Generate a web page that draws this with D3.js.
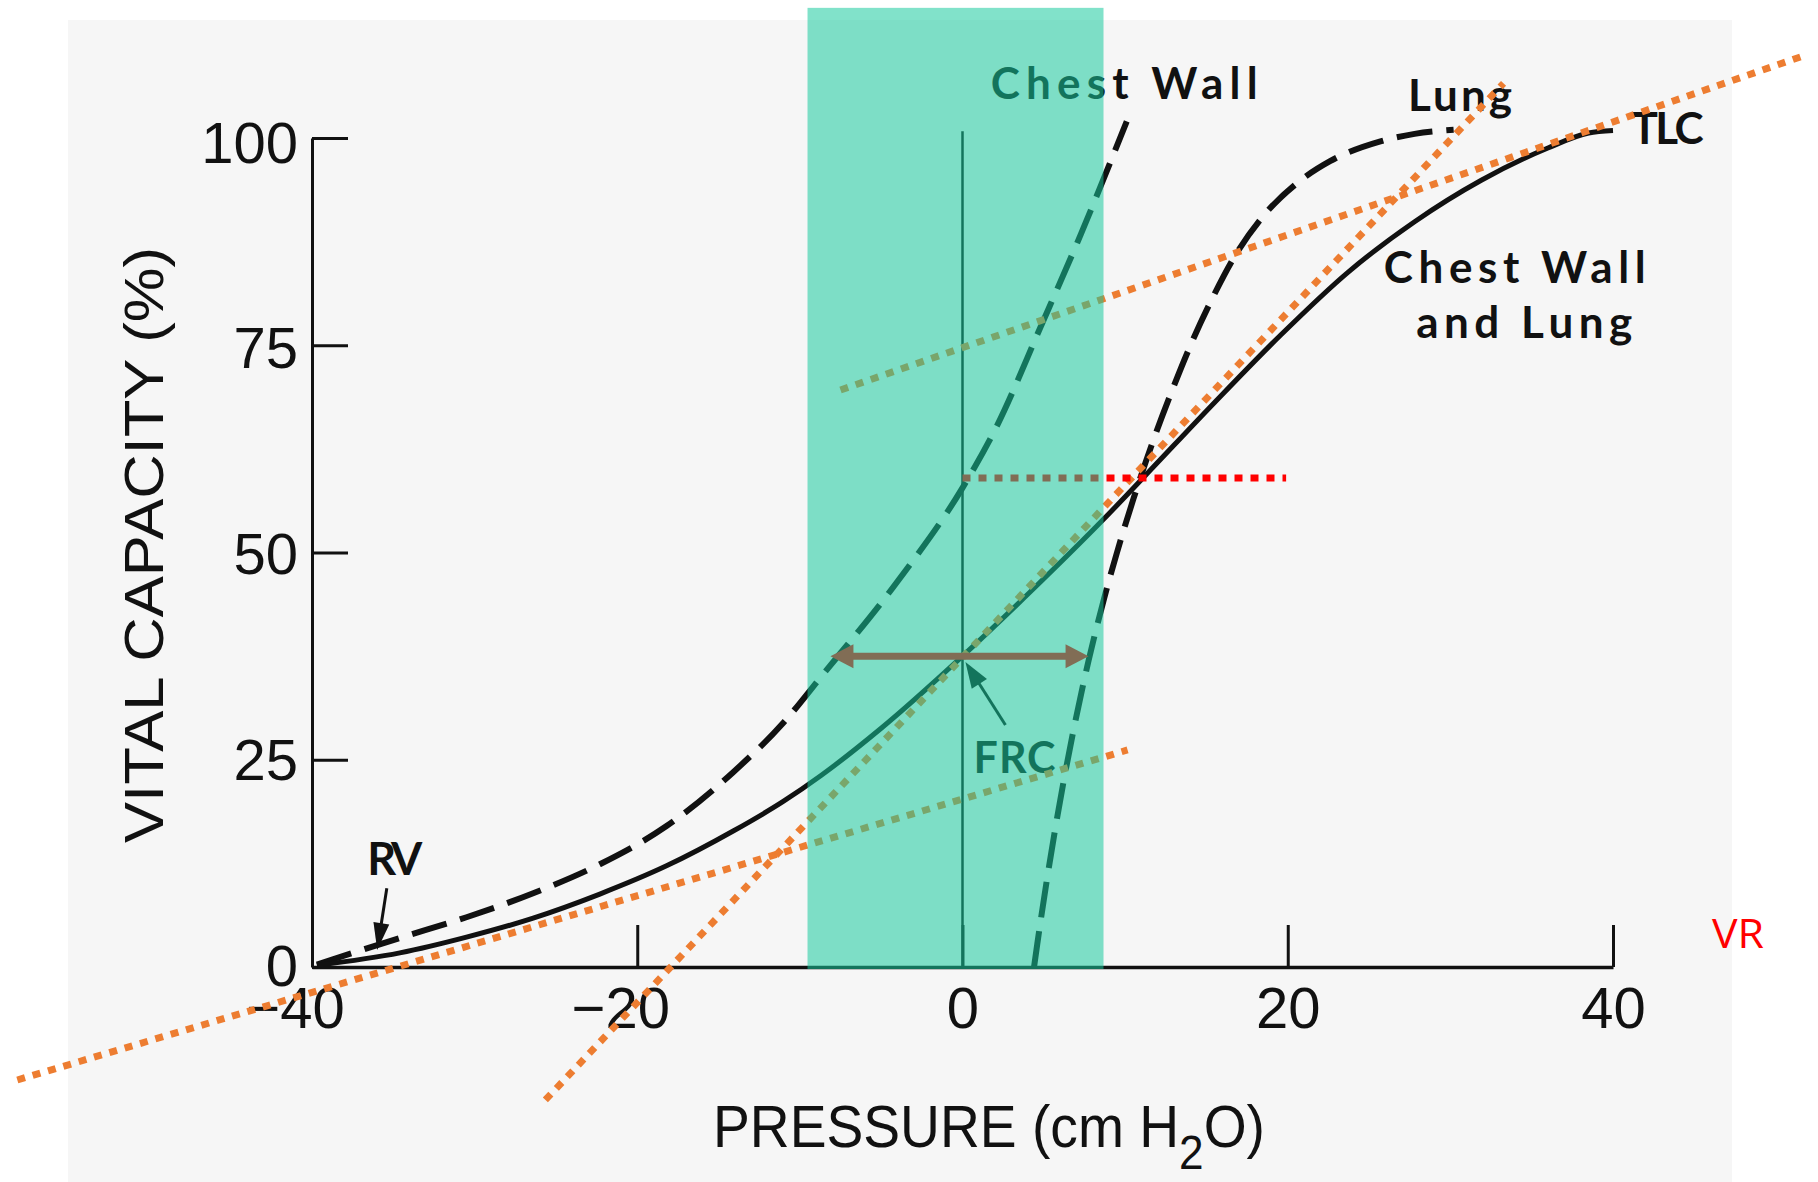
<!DOCTYPE html>
<html>
<head>
<meta charset="utf-8">
<script src="https://cdn.jsdelivr.net/npm/d3@7"></script>
<style>
  html, body { margin: 0; padding: 0; background: #ffffff; }
  svg { display: block; }
</style>
</head>
<body>
<script>
// ---------------- DATA ----------------
const pressureTicks = [-40, -20, 0, 20, 40];
const vcTicks = [0, 25, 50, 75, 100];

// Chest wall (dashed, left)
const chestWall = [[-39.7,0.3],[-34.6,3.5],[-30.5,6.0],[-26.4,8.9],[-22.3,12.4],[-18.2,17.0],
  [-14.1,23.5],[-11.0,29.5],[-8.7,35.0],[-4.0,46.5],[0,57.8],[2.1,65.2],[4.8,77.2],
  [7.3,88.5],[10.1,102.0]];
// Lung (dashed, right)
const lung = [[4.4,0],[4.6,2.8],[5.8,17.8],[6.85,28.8],[7.77,37.1],[8.7,44.4],[9.5,50.0],
  [10.5,56.4],[11.8,63.9],[13.0,70.1],[14.0,74.9],[15.5,81.2],[16.7,85.6],[18.5,90.6],
  [20.6,94.6],[22.6,97.2],[25.7,99.6],[27.8,100.5],[30.2,101.0]];
// Chest wall and lung (solid)
const chestWallAndLung = [[-39.7,0.2],[-34.6,1.7],[-30.5,3.6],[-26.4,5.9],[-22.3,8.8],
  [-18.2,12.2],[-14.1,16.4],[-11.0,20.0],[-8.7,23.1],[-5.0,28.8],[0,37.5],[4.3,45.5],
  [8.67,54.0],[11.2,59.2],[15.5,68.1],[19.6,76.3],[23.7,83.8],[27.8,89.9],[31.9,94.9],
  [36.0,98.8],[38.5,100.6],[40,100.9]];
const zeroLine = [[0,0],[0,100.8]];

// highlighted band (pressure range, volume range)
const bandPressure = [-9.53, 8.67];
const bandVolume = [-0.24, 115.7];

// annotation lines
const tangentRV  = [[-58.12,-13.63],[10.15,26.18]];
const tangentFRC = [[-25.65,-16.04],[33.27,106.6]];
const tangentTLC = [[-7.5,69.6],[51.7,109.9]];
const redLevel   = [[0,59.0],[19.9,59.0]];
const frcSpan    = [[-8.12,37.5],[7.75,37.5]];
const rvPointer  = [[-35.4,9.5],[-35.99,2.05]];
const frcPointer = [[2.64,29.2],[0.18,36.8]];

// text labels: [text, pressure, volume, width]
const curveLabels = [
  ["Chest Wall", 1.73, 104.7, 267],
  ["Lung", 27.4, 103.2, 104],
  ["TLC", 41.14, 99.3, 72],
  ["Chest Wall", 25.9, 82.5, 262],
  ["and Lung", 27.9, 75.9, 216],
  ["RV", -36.6, 11.1, 55],
  ["FRC", 0.68, 23.4, 82]
];

// ---------------- SCALES ----------------
const W = 1818, H = 1182;
const x = d3.scaleLinear().domain([-40, 40]).range([312, 1613]);
const y = d3.scaleLinear().domain([0, 100]).range([967, 138]);

const svg = d3.select('body').append('svg').attr('width', W).attr('height', H);

// page background (scanned page)
svg.append('rect').attr('x', 0).attr('y', 0).attr('width', W).attr('height', H).attr('fill', '#ffffff');
svg.append('rect').attr('x', 68).attr('y', 20).attr('width', 1664).attr('height', H - 20).attr('fill', '#f6f6f6');

const ink = '#111111';
const tickFont = "'Liberation Sans', Arial, sans-serif";
const labelFont = "Lato, 'Noto Sans', sans-serif";

// ---------------- AXES ----------------
const yAxis = svg.append('g')
  .attr('transform', `translate(${x(-40)},0)`)
  .call(d3.axisRight(y).tickValues(vcTicks).tickSize(36).tickSizeOuter(0).tickFormat(d3.format('d')));
yAxis.select('.domain').attr('stroke', ink).attr('stroke-width', 3);
yAxis.selectAll('.tick line').attr('stroke', ink).attr('stroke-width', 3);
yAxis.selectAll('.tick text')
  .attr('x', -14).attr('dy', null).attr('y', d => 18 + d * 0.06)
  .attr('text-anchor', 'end')
  .attr('fill', ink)
  .style('font-family', tickFont).style('font-size', '58px');

const xAxis = svg.append('g')
  .attr('transform', `translate(0,${y(0)})`)
  .call(d3.axisBottom(x).tickValues(pressureTicks).tickSize(-42).tickSizeOuter(0).tickFormat(d3.format('d')));
xAxis.select('.domain').attr('stroke', ink).attr('stroke-width', 3.5);
xAxis.selectAll('.tick line').attr('stroke', ink).attr('stroke-width', 3);
xAxis.selectAll('.tick text')
  .attr('dy', null).attr('y', 61)
  .attr('text-anchor', 'end')
  .attr('x', d => String(Math.abs(d)).length * 0.556 * 58 / 2)
  .attr('fill', ink)
  .style('font-family', tickFont).style('font-size', '58px');

// axis titles
const xt = svg.append('text').attr('x', 713).attr('y', 1147)
  .attr('textLength', 552).attr('lengthAdjust', 'spacingAndGlyphs')
  .attr('fill', ink).style('font-family', tickFont).style('font-size', '60px');
xt.append('tspan').text('PRESSURE (cm H');
xt.append('tspan').attr('dy', 22).style('font-size', '48px').text('2');
xt.append('tspan').attr('dy', -22).text('O)');

svg.append('text')
  .attr('transform', 'translate(163,545) rotate(-90)')
  .attr('text-anchor', 'middle')
  .attr('textLength', 596).attr('lengthAdjust', 'spacingAndGlyphs')
  .attr('fill', ink)
  .style('font-family', tickFont).style('font-size', '55px')
  .text('VITAL CAPACITY (%)');

// ---------------- CURVES ----------------
const line = d3.line().x(d => x(d[0])).y(d => y(d[1])).curve(d3.curveMonotoneX);
const straight = d3.line().x(d => x(d[0])).y(d => y(d[1]));

svg.append('path').datum(zeroLine).attr('d', straight).attr('stroke', ink).attr('stroke-width', 2.5).attr('fill', 'none');

svg.append('path').datum(chestWall).attr('d', line).attr('fill', 'none')
  .attr('stroke', ink).attr('stroke-width', 6).attr('stroke-dasharray', '36 14');
svg.append('path').datum(lung).attr('d', line).attr('fill', 'none')
  .attr('stroke', ink).attr('stroke-width', 6).attr('stroke-dasharray', '36 14');
svg.append('path').datum(chestWallAndLung).attr('d', line).attr('fill', 'none')
  .attr('stroke', ink).attr('stroke-width', 5);

// ---------------- LABELS ----------------
svg.append('g').selectAll('text').data(curveLabels).join('text')
  .attr('x', d => x(d[1])).attr('y', d => y(d[2]))
  .attr('textLength', d => d[3]).attr('lengthAdjust', 'spacing')
  .attr('fill', ink)
  .style('font-family', labelFont)
  .style('font-weight', 700)
  .style('font-size', d => (d[0] === 'RV' ? 45 : d[0] === 'FRC' ? 43 : 44) + 'px')
  .text(d => d[0]);

// pointer arrows
function arrow(pts, color, width, headLen, headHalf) {
  const x1 = x(pts[0][0]), y1 = y(pts[0][1]);
  const x2 = x(pts[1][0]), y2 = y(pts[1][1]);
  const dx = x2 - x1, dy = y2 - y1, L = Math.hypot(dx, dy);
  const ux = dx / L, uy = dy / L;
  const bx = x2 - ux * headLen, by = y2 - uy * headLen;
  svg.append('line').attr('x1', x1).attr('y1', y1).attr('x2', bx + ux * 2).attr('y2', by + uy * 2)
    .attr('stroke', color).attr('stroke-width', width);
  svg.append('path')
    .attr('d', `M${x2},${y2}L${bx - uy * headHalf},${by + ux * headHalf}L${bx + uy * headHalf},${by - ux * headHalf}Z`)
    .attr('fill', color);
}
arrow(rvPointer, ink, 3, 27, 8);
arrow(frcPointer, ink, 3, 26, 9);

// ---------------- ANNOTATIONS ----------------
const orange = '#ED7D31';
[tangentRV, tangentFRC, tangentTLC].forEach(seg => {
  svg.append('path').datum(seg).attr('d', straight).attr('fill', 'none')
    .attr('stroke', orange).attr('stroke-width', 7).attr('stroke-dasharray', '8 8');
});
svg.append('path').datum(redLevel).attr('d', straight).attr('fill', 'none')
  .attr('stroke', '#FF0000').attr('stroke-width', 7).attr('stroke-dasharray', '8 8');

// double arrow across FRC (red, seen through the band)
(function () {
  const xa = x(frcSpan[0][0]), xb = x(frcSpan[1][0]), yy = y(frcSpan[0][1]);
  const hl = 23, hh = 12;
  svg.append('line').attr('x1', xa + hl - 1).attr('x2', xb - hl + 1).attr('y1', yy).attr('y2', yy)
    .attr('stroke', '#FF0000').attr('stroke-width', 7);
  svg.append('path').attr('d', `M${xa},${yy}L${xa + hl},${yy - hh}L${xa + hl},${yy + hh}Z`).attr('fill', '#FF0000');
  svg.append('path').attr('d', `M${xb},${yy}L${xb - hl},${yy - hh}L${xb - hl},${yy + hh}Z`).attr('fill', '#FF0000');
})();

// translucent highlighted band
svg.append('rect')
  .attr('x', x(bandPressure[0])).attr('y', y(bandVolume[1]))
  .attr('width', x(bandPressure[1]) - x(bandPressure[0]))
  .attr('height', y(bandVolume[0]) - y(bandVolume[1]))
  .attr('fill', 'rgb(22,202,157)').attr('fill-opacity', 0.54);

// VR label
svg.append('text').attr('x', 1712).attr('y', 948)
  .attr('textLength', 52).attr('lengthAdjust', 'spacingAndGlyphs')
  .attr('fill', '#FF0000')
  .style('font-family', "'Open Sans', 'Noto Sans', sans-serif").style('font-size', '40px')
  .text('VR');
</script>
</body>
</html>
